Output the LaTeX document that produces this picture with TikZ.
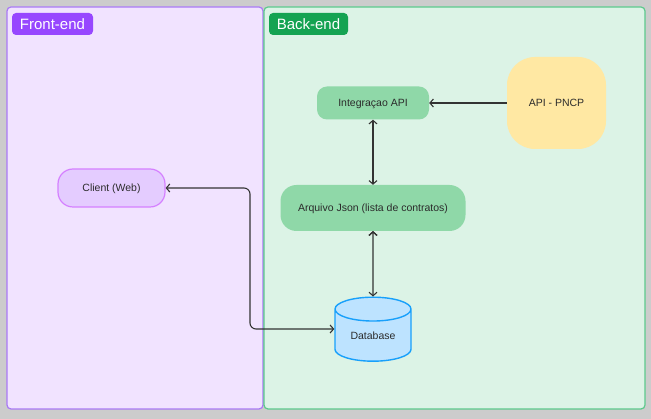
\documentclass[tikz,border=0pt]{standalone}
\usepackage{fontspec}
\setmainfont{Liberation Sans}
\usetikzlibrary{shapes.geometric,arrows.meta}

\definecolor{canvas}{HTML}{CCCCCC}
\definecolor{frontbg}{HTML}{F1E3FF}
\definecolor{frontline}{HTML}{A97AF5}
\definecolor{frontlabel}{HTML}{9747FF}
\definecolor{backbg}{HTML}{DCF3E6}
\definecolor{backline}{HTML}{5CC98C}
\definecolor{backlabel}{HTML}{14A352}
\definecolor{apigreen}{HTML}{8FD8A8}
\definecolor{pncpyellow}{HTML}{FFE8A3}
\definecolor{clientfill}{HTML}{E4CCFF}
\definecolor{clientline}{HTML}{D580FF}
\definecolor{dbfill}{HTML}{BDE3FF}
\definecolor{dbline}{HTML}{18A0FB}
\definecolor{textgray}{HTML}{2B2B2B}
\definecolor{linegray}{HTML}{333333}

\begin{document}
\begin{tikzpicture}[x=1pt,y=-1pt]
\tikzstyle{panel}=[rounded corners=4, line width=1.2]
\tikzstyle{tag}=[rounded corners=4, text=white, font=\fontsize{15}{18}\selectfont, minimum height=22, inner sep=0pt, text height=10.5pt, text depth=0pt]
\tikzstyle{box}=[font=\fontsize{10.5}{12}\selectfont, text=textgray, inner sep=0pt, text height=7.6pt, text depth=0pt]
\tikzstyle{link}=[draw=linegray, line width=1.1]

\useasboundingbox (0,0) rectangle (651,419);
\fill[canvas] (0,0) rectangle (651,419);

% the two areas
\draw[panel, fill=frontbg, draw=frontline] (7,7) rectangle (263,409);
\draw[panel, fill=backbg, draw=backline] (264,7) rectangle (645,409);
\node[tag, fill=frontlabel, minimum width=81] (front) at (52.5,24) {Front-end};
\node[tag, fill=backlabel, minimum width=79] (back) at (308.5,24) {Back-end};

\node[box, fill=apigreen, minimum width=112, minimum height=33, rounded corners=10] (integ) at (373,103) {Integraçao API};
\node[box, fill=pncpyellow, minimum width=99, minimum height=92, rounded corners=28] (pncp) at (556.5,103) {API - PNCP};
\node[box, fill=apigreen, minimum width=185, minimum height=46, rounded corners=16] (json) at (373,208) {Arquivo Json (lista de contratos)};
\node[box, fill=clientfill, draw=clientline, line width=1.2, minimum width=107, minimum height=38, rounded corners=15] (client) at (111.5,188) {Client (Web)};
\node[box, cylinder, shape border rotate=90, aspect=0.53, fill=dbfill, draw=dbline, line width=1.4, minimum width=76, minimum height=64] (db) at (373,335.5) {Database};

\coordinate (turn) at (250,329);

\draw[link, -{Straight Barb[length=3.5pt,width=8pt]}] (pncp.west) -- (integ.east);
\path[link, {Straight Barb[length=3.5pt,width=8pt]}-{Straight Barb[length=3.5pt,width=8pt]}]
(json.north) edge (integ.south)
(json.south) edge (db.north);
\draw[link, rounded corners=6, {Straight Barb[length=3.5pt,width=8pt]}-{Straight Barb[length=3.5pt,width=8pt]}] (client.east) -| (turn) -- (turn -| db.west);

\end{tikzpicture}
\end{document}
